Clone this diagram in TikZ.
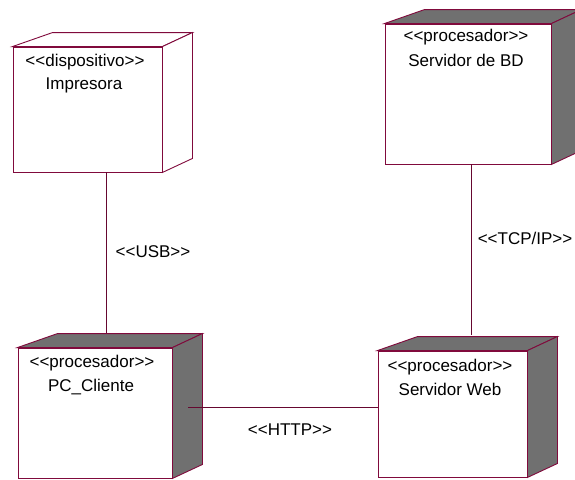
\documentclass[tikz,border=0pt]{standalone}
\usepackage{fontspec}
\setmainfont{Liberation Sans}
\usetikzlibrary{calc}
\definecolor{edgec}{RGB}{128,10,60}
\definecolor{shadec}{RGB}{112,112,112}
\tikzset{
  front/.style={draw=edgec, line width=0.9pt, fill=white, rectangle, inner sep=0pt},
  face/.style={draw=edgec, line width=0.9pt},
  edgefront/.style={draw=edgec, line width=1.8pt},
  lbl/.style={inner sep=0pt, font=\fontsize{17}{20}\selectfont},
  conn/.style={draw=edgec!80!black, line width=0.9pt}
}
\newcommand{\nodebox}[3]{% name, face fill, dummy
  \path[face, fill=#2] (#1.north west) -- ++(40,-14) -- ([shift={(30,-14)}]#1.north east) -- (#1.north east) -- cycle;
  \path[face, fill=#2] (#1.north east) -- ([shift={(30,-14)}]#1.north east) -- ([shift={(30,-14)}]#1.south east) -- (#1.south east) -- cycle;
  \draw[edgefront] (#1.north east) -- (#1.south east);
}
\begin{document}
\begin{tikzpicture}[x=1pt,y=-1pt]
\useasboundingbox[fill=white] (0,0) rectangle (575,479);

% Impresora
\node[front, minimum width=149pt, minimum height=125pt] (imp) at (87.5,109.5) {};
\nodebox{imp}{white}{}
\node[lbl] (impst) at (85,62) {<{}<dispositivo>{}>};
\node[lbl] (impnm) at (84,85) {Impresora};

% Servidor de BD
\node[front, minimum width=166pt, minimum height=140pt] (bd) at (468,94) {};
\nodebox{bd}{shadec}{}
\node[lbl] (bdst) at (466,37) {<{}<procesador>{}>};
\node[lbl] (bdnm) at (466,60) {Servidor de BD};

% PC_Cliente
\node[front, minimum width=154pt, minimum height=130pt] (pc) at (95,413) {};
\nodebox{pc}{shadec}{}
\node[lbl] (pcst) at (92,363) {<{}<procesador>{}>};
\node[lbl] (pcnm) at (91,387) {PC\_Cliente};

% Servidor Web
\node[front, minimum width=149pt, minimum height=126pt] (web) at (452.5,414) {};
\nodebox{web}{shadec}{}
\node[lbl] (webst) at (450,367) {<{}<procesador>{}>};
\node[lbl] (webnm) at (450,389) {Servidor Web};

% connectors
\coordinate (usbtop) at ([xshift=18.5pt]imp.south);
\coordinate (pctop) at ([yshift=15pt]pc.north);
\draw[conn] (usbtop) -- (usbtop |- pctop);
\coordinate (tcptop) at ([xshift=3pt]bd.south);
\coordinate (webtop) at ([yshift=16pt]web.north);
\draw[conn] (tcptop) -- (tcptop |- webtop);
\coordinate (httpl) at ([shift={(16pt,6pt)}]pc.east);
\draw[conn] (httpl) -- (httpl -| web.west);

\node[lbl] (usb) at (153,252) {<{}<USB>{}>};
\node[lbl] (tcp) at (525,238) {<{}<TCP/IP>{}>};
\node[lbl] (http) at (290,430) {<{}<HTTP>{}>};
\end{tikzpicture}
\end{document}
